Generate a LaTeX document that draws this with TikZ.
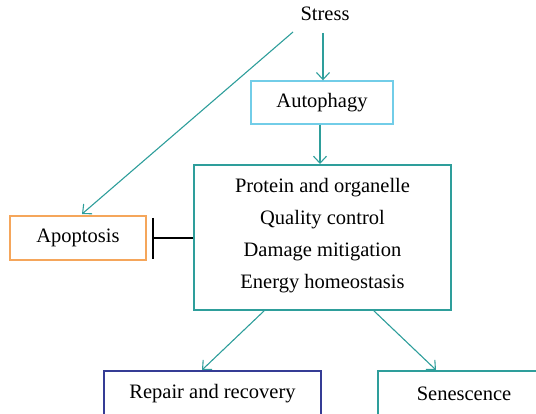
\documentclass[tikz,border=0pt]{standalone}
\usepackage{fontspec}
\setmainfont{Liberation Serif}
\usetikzlibrary{arrows.meta}
\definecolor{tealc}{HTML}{2E9E9B}
\definecolor{lblue}{HTML}{72CDE8}
\definecolor{orng}{HTML}{F5A65B}
\definecolor{navy}{HTML}{353C95}
\tikzset{
  box/.style={draw, line width=1.4pt, inner sep=0pt},
  lbl/.style={font=\fontsize{20.5}{24}\selectfont, inner sep=0pt},
  conn/.style={tealc, line width=1.1pt, -{Straight Barb[length=7pt,width=13pt]}},
}
\begin{document}
\begin{tikzpicture}[x=1pt,y=-1pt]
\useasboundingbox (0,0) rectangle (536,414);
\clip (0,0) rectangle (536,414);
% nodes
\node[lbl] (stress) at (325,14) {Stress};
\node[box, draw=lblue, minimum width=142pt, minimum height=43pt] (auto) at (322,102.5) {};
\node[lbl] at (auto) {Autophagy};
\node[box, draw=tealc, minimum width=257pt, minimum height=145pt] (main) at (322.5,237.5) {};
\node[lbl, align=center, font=\fontsize{20.5}{32}\selectfont] at (322.5,236) {Protein and organelle\\Quality control\\Damage mitigation\\Energy homeostasis};
\node[box, draw=orng, minimum width=136pt, minimum height=44pt] (apo) at (78,238) {};
\node[lbl] at (apo) {Apoptosis};
\node[box, draw=navy, minimum width=217pt, minimum height=80pt] (rep) at (212.5,411) {};
\node[lbl] at (212.5,394) {Repair and recovery};
\node[box, draw=tealc, minimum width=190pt, minimum height=80pt] (sen) at (473,411) {};
\node[lbl] at (464,394) {Senescence};
% connectors
\coordinate (s1) at (323,33);
\coordinate (s2) at (293,32);
\coordinate (bar) at (153,238);
\draw[conn] (s1) -- (s1 |- auto.north);
\draw[conn] (s2) -- (82,214);
\draw[conn] (auto.south -| 320,0) -- (320,164);
\draw[conn] (265,310) -- (202,370);
\draw[conn] (373,310) -- (436,370);
\draw[black, line width=1.4pt] (main.west |- bar) -- (bar);
\draw[black, line width=1.6pt] (153,218) -- (153,259);
\end{tikzpicture}
\end{document}
